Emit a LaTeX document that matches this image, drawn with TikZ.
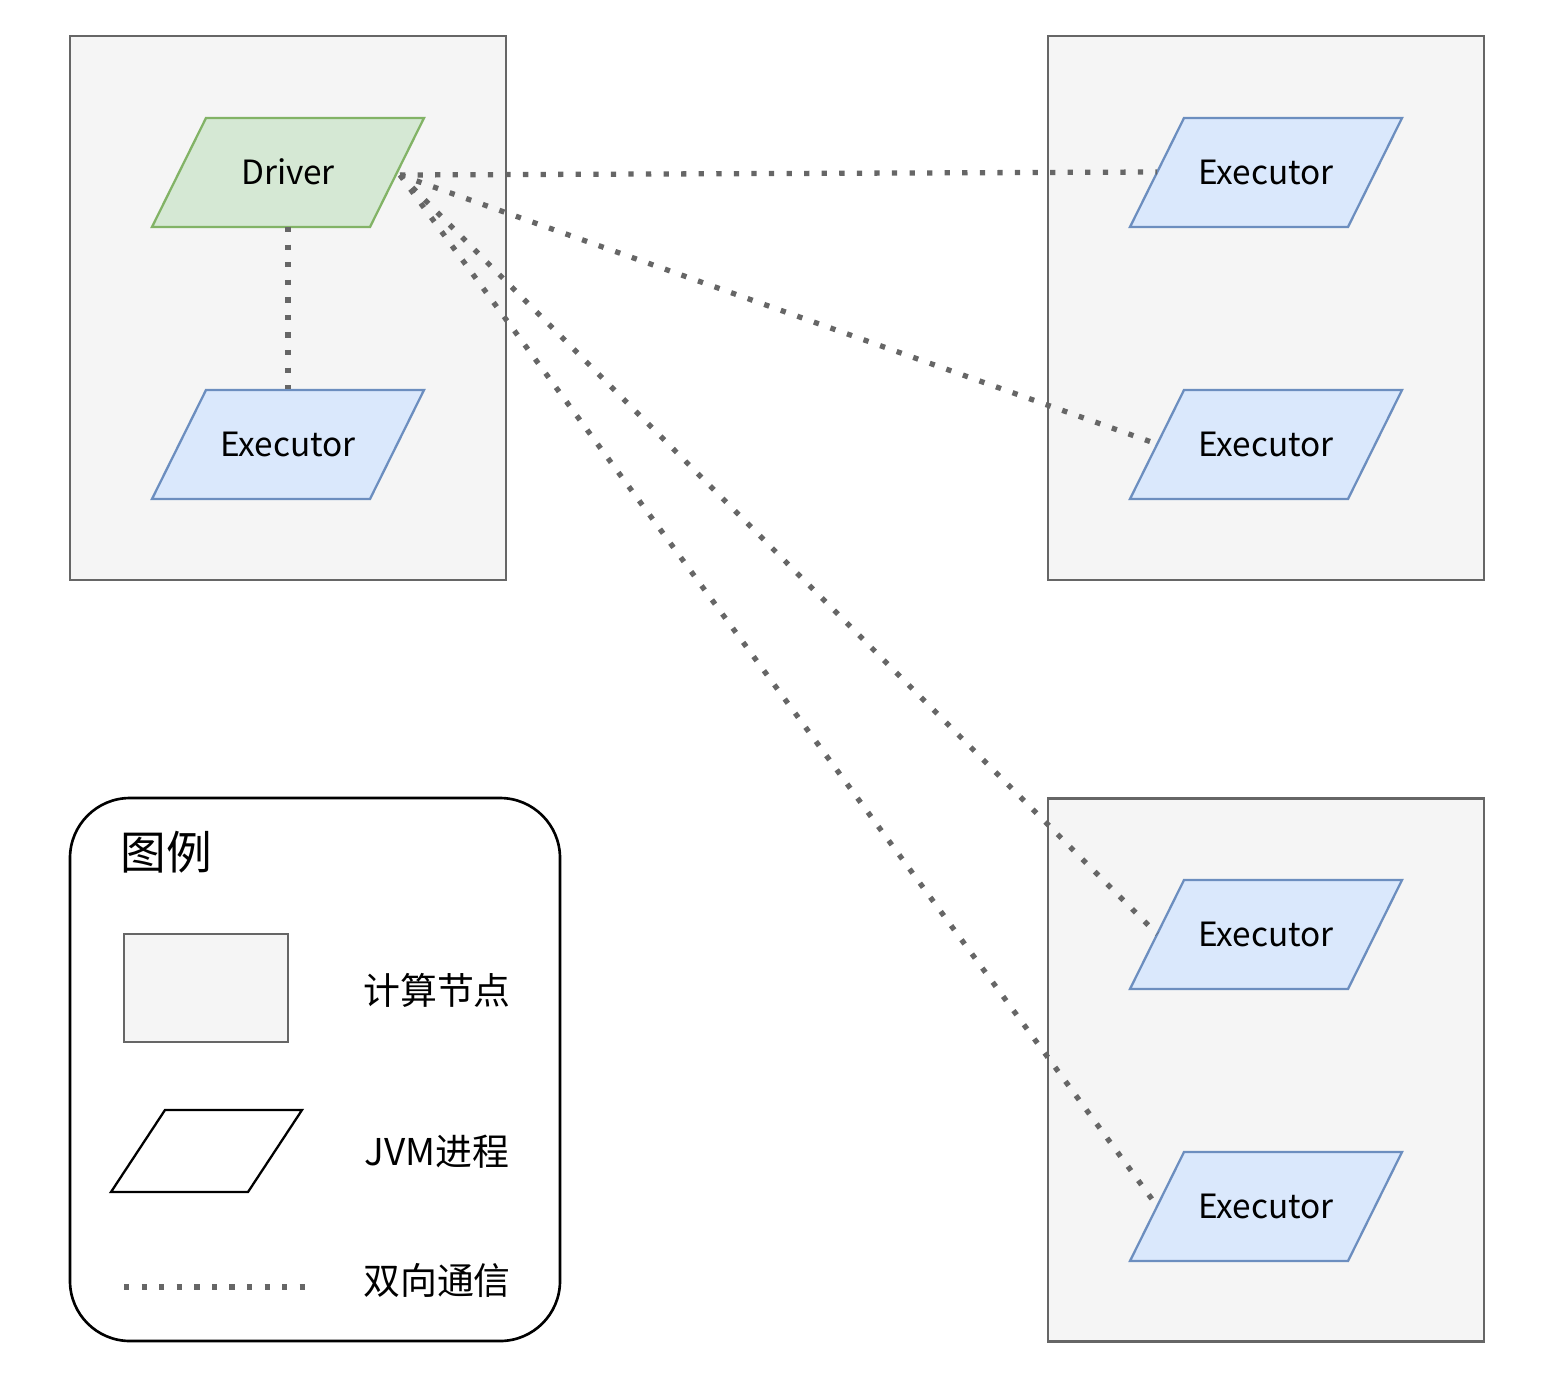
\documentclass[tikz,border=0pt]{standalone}
\usepackage{fontspec}
\setmainfont{Noto Sans CJK SC}
\definecolor{jfill}{HTML}{DAE8FC}
\definecolor{jdraw}{HTML}{6C8EBF}
\definecolor{dfill}{HTML}{D5E8D4}
\definecolor{ddraw}{HTML}{82B366}
\definecolor{hdraw}{HTML}{666666}
\definecolor{hfill}{HTML}{F5F5F5}
\begin{document}
\begin{tikzpicture}[x=0.02cm,y=-0.02cm,
  host/.style={draw=hdraw,fill=hfill,line width=1.3pt},
  jvm/.style={draw=jdraw,fill=jfill,line width=1.3pt},
  drv/.style={draw=ddraw,fill=dfill,line width=1.3pt},
  comm/.style={draw=hdraw,line width=3pt,dash pattern=on 3pt off 7pt},
  lbl/.style={font=\fontsize{19}{22}\selectfont}]
\useasboundingbox (0,0) rectangle (1552,1390);
\newcommand{\para}[5]{%
  \draw[#5] (#2-82,#3-54) -- (#2+136,#3-54) -- (#2+82,#3+55) -- (#2-136,#3+55) -- cycle;
  \node[lbl,inner sep=0] (#1) at (#2,#3) {#4};}
\node[host,minimum width=436*0.02cm,minimum height=544*0.02cm] (h1) at (288,308) {};
\node[host,minimum width=436*0.02cm,minimum height=544*0.02cm] (h2) at (1266,308) {};
\node[host,minimum width=436*0.02cm,minimum height=543*0.02cm] (h3) at (1266,1070) {};
\para{d}{288}{172}{Driver}{drv}
\para{e0}{288}{444}{Executor}{jvm}
\para{e1}{1266}{172}{Executor}{jvm}
\para{e2}{1266}{444}{Executor}{jvm}
\para{e3}{1266}{934}{Executor}{jvm}
\para{e4}{1266}{1206}{Executor}{jvm}
\coordinate (dr) at (400,175);
\coordinate (db) at (288,227);
\coordinate (et) at (288,389);
\coordinate (l1) at (1157,172);
\coordinate (l2) at (1157,444);
\coordinate (l3) at (1157,934);
\coordinate (l4) at (1157,1206);
\draw[comm] (db) -- (et);
\draw[comm] (dr) -- (l1);
\draw[comm] (dr) -- (l2);
\draw[comm] (dr) -- (l3);
\draw[comm] (dr) -- (l4);
% legend
\draw[line width=1.5pt,rounded corners=60*0.02cm] (70,798) rectangle (560,1341);
\node[font=\fontsize{26}{30}\selectfont] (lt) at (166,852) {图例};
\node[host,minimum width=164*0.02cm,minimum height=108*0.02cm] (lr) at (206,988) {};
\draw[line width=1.3pt] (165,1110) -- (302,1110) -- (248,1192) -- (111,1192) -- cycle;
\coordinate (la) at (124,1287);
\coordinate (lb) at (307,1287);
\draw[comm] (la) -- (lb);
\node[font=\fontsize{21}{24}\selectfont] (t1) at (437,990) {计算节点};
\node[font=\fontsize{21}{24}\selectfont] (t2) at (437,1152) {JVM进程};
\node[font=\fontsize{21}{24}\selectfont] (t3) at (437,1280) {双向通信};
\end{tikzpicture}
\end{document}
